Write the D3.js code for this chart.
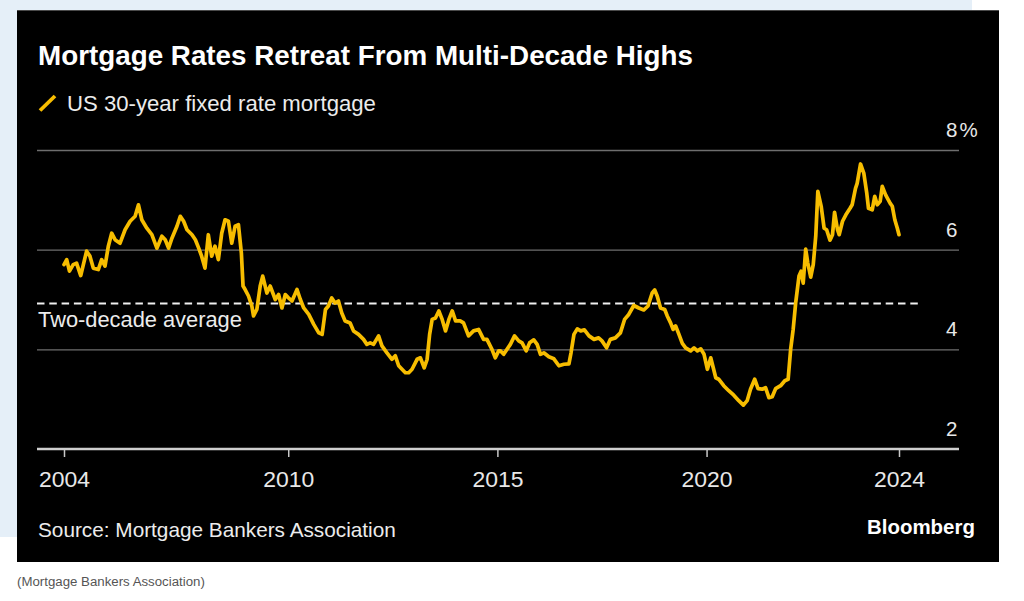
<!DOCTYPE html>
<html><head><meta charset="utf-8">
<script src="https://cdn.jsdelivr.net/npm/d3@7"></script>
<style>html,body{margin:0;padding:0;background:#fff;overflow:hidden} svg{display:block}</style>
</head><body>
<svg id="c" width="1024" height="601"></svg>
<script>
// ---- data ----
const dates = [2004.64,2004.705,2004.77,2004.86,2004.94,2005.04,2005.18,2005.26,2005.34,2005.46,2005.54,2005.62,2005.70,2005.78,2005.86,2005.98,
2006.10,2006.22,2006.34,2006.42,2006.50,2006.62,2006.74,2006.86,2006.98,2007.06,2007.14,2007.22,2007.34,2007.42,2007.50,2007.58,2007.70,2007.78,2007.86,2007.93,
2008.01,2008.09,2008.17,2008.25,2008.33,2008.41,2008.49,2008.57,2008.65,2008.73,2008.81,2008.88,2008.92,2008.97,2009.05,2009.13,2009.17,2009.25,2009.33,2009.39,2009.49,
2009.57,2009.69,2009.77,2009.85,2009.93,2010.01,2010.09,2010.21,2010.29,2010.37,2010.49,2010.61,2010.73,2010.81,2010.89,2010.96,2011.04,2011.12,2011.20,2011.28,2011.36,2011.48,2011.56,2011.68,2011.80,2011.88,2011.96,
2012.04,2012.16,2012.24,2012.36,2012.48,2012.56,2012.64,2012.72,2012.80,2012.88,2012.96,2013.08,2013.16,2013.25,2013.32,2013.38,2013.44,2013.52,2013.60,2013.68,2013.76,2013.84,2013.92,
2014.00,2014.11,2014.19,2014.31,2014.43,2014.55,2014.67,2014.75,2014.87,2014.95,2015.03,2015.07,2015.15,2015.23,2015.31,2015.41,2015.51,2015.59,2015.69,2015.77,2015.87,2015.95,
2016.03,2016.11,2016.23,2016.35,2016.47,2016.59,2016.71,2016.76,2016.83,2016.91,2016.99,2017.08,2017.19,2017.31,2017.42,2017.50,2017.61,2017.70,2017.82,2017.94,
2018.04,2018.14,2018.26,2018.38,2018.50,2018.60,2018.70,2018.76,2018.82,2018.90,2019.00,2019.06,2019.14,2019.20,2019.26,2019.34,2019.42,2019.50,2019.62,2019.70,2019.78,2019.86,2019.94,
2020.02,2020.10,2020.16,2020.22,2020.29,2020.41,2020.53,2020.65,2020.77,2020.88,2020.97,2021.05,2021.15,2021.23,2021.33,2021.41,2021.49,2021.57,2021.65,2021.77,2021.87,2021.95,
2022.01,2022.07,2022.13,2022.21,2022.26,2022.31,2022.37,2022.42,2022.49,2022.55,2022.61,2022.66,2022.74,2022.81,2022.87,2022.95,2023.01,2023.06,2023.13,2023.17,2023.25,2023.33,2023.43,2023.48,
2023.56,2023.60,2023.68,2023.76,2023.83,2023.87,2023.96,2024.02,2024.08,2024.15,2024.20,2024.28,2024.39,2024.44,2024.50,2024.56,2024.60];
const rates = [5.70,5.80,5.57,5.70,5.73,5.48,5.97,5.87,5.63,5.60,5.80,5.67,6.07,6.33,6.20,6.13,
6.40,6.57,6.67,6.90,6.60,6.43,6.30,6.03,6.27,6.20,6.03,6.23,6.47,6.67,6.57,6.40,6.30,6.20,6.03,5.87,
5.63,6.30,5.87,6.07,5.80,6.33,6.60,6.57,6.13,6.47,6.50,5.93,5.27,5.20,5.07,4.87,4.67,4.80,5.27,5.47,5.13,
5.27,5.00,5.10,4.83,5.10,5.03,4.97,5.20,5.00,4.83,4.70,4.50,4.33,4.30,4.80,4.87,5.03,4.93,4.97,4.73,4.57,4.53,4.37,4.30,4.20,4.10,4.13,
4.10,4.27,4.07,3.93,3.80,3.87,3.67,3.60,3.53,3.53,3.60,3.80,3.83,3.63,3.80,4.30,4.60,4.63,4.77,4.60,4.37,4.60,4.77,
4.57,4.57,4.53,4.27,4.37,4.40,4.20,4.20,4.00,3.83,3.97,3.97,3.90,4.00,4.10,4.27,4.17,4.13,3.97,4.13,4.19,4.10,
3.90,3.93,3.85,3.81,3.67,3.70,3.71,3.93,4.30,4.41,4.37,4.39,4.27,4.20,4.23,4.17,4.03,4.20,4.23,4.33,
4.60,4.70,4.88,4.83,4.79,4.87,5.13,5.19,5.07,4.83,4.80,4.67,4.53,4.40,4.47,4.30,4.12,4.03,3.97,4.03,3.97,4.01,3.90,
3.60,3.83,3.63,3.43,3.40,3.27,3.17,3.08,2.97,2.88,2.97,3.20,3.40,3.21,3.20,3.23,3.03,3.05,3.21,3.27,3.37,3.40,
4.00,4.40,4.93,5.47,5.57,5.33,6.01,5.73,5.45,5.70,6.27,7.17,6.87,6.43,6.40,6.19,6.30,6.75,6.40,6.30,6.57,6.70,6.83,6.90,
7.23,7.33,7.72,7.53,7.13,6.83,6.80,7.07,6.90,6.97,7.27,7.10,6.93,6.87,6.60,6.43,6.30];
const averageRate = 4.92;
const yTicks = [2, 4, 6, 8];
const yTickLabels = ["2", "4", "6", "8%"];
const xTicks = [2004.64, 2010, 2015, 2020, 2024.60];
const xTickLabels = ["2004", "2010", "2015", "2020", "2024"];
const seriesName = "US 30-year fixed rate mortgage";
const titleText = "Mortgage Rates Retreat From Multi-Decade Highs";
const avgLabel = "Two-decade average";
const sourceText = "Source: Mortgage Bankers Association";
const captionText = "(Mortgage Bankers Association)";

// ---- drawing ----
const svg = d3.select("#c");
const FONT = "'Liberation Sans', Arial, sans-serif";
const YELLOW = "#f7bd00";

function fit(sel, w) {
  const cur = parseFloat(sel.attr("font-size"));
  const m = sel.node().getComputedTextLength();
  if (m > 0) sel.attr("font-size", (cur * w / m).toFixed(2));
  return sel;
}

// page background pieces
svg.append("rect").attr("x", 0).attr("y", 0).attr("width", 1024).attr("height", 601).attr("fill", "#ffffff");
svg.append("rect").attr("x", 0).attr("y", 0).attr("width", 972).attr("height", 11).attr("fill", "#e5eff8");
svg.append("rect").attr("x", 0).attr("y", 0).attr("width", 18).attr("height", 537).attr("fill", "#e5eff8");
// black panel
svg.append("rect").attr("x", 17).attr("y", 10).attr("width", 982).attr("height", 552).attr("fill", "#000");
svg.append("line").attr("x1", 17).attr("x2", 999).attr("y1", 10.5).attr("y2", 10.5).attr("stroke", "#4a4a4a").attr("stroke-width", 1);

const x = d3.scaleLinear().domain([xTicks[0], xTicks[xTicks.length - 1]]).range([64, 899]);
const y = d3.scaleLinear().domain([2, 8]).range([449, 150]);

// gridlines
const grid = svg.append("g").attr("transform", "translate(37,0)")
  .call(d3.axisRight(y).tickValues(yTicks.slice(1)).tickSize(922).tickFormat(""));
grid.select(".domain").remove();
grid.selectAll(".tick line").attr("stroke", "#6e6e6e").attr("stroke-width", 1.4);

// y labels
svg.append("g").selectAll("text").data(yTicks).join("text")
  .attr("x", 946).attr("y", d => y(d) - 13)
  .attr("font-family", FONT).attr("font-size", 20.5).attr("fill", "#e8e8e8")
  .attr("letter-spacing", (d, i) => yTickLabels[i].length > 1 ? 2 : 0)
  .text((d, i) => yTickLabels[i]);

// x axis
const xa = svg.append("g").attr("transform", "translate(0,449)")
  .call(d3.axisBottom(x).tickValues(xTicks).tickSize(8).tickFormat((d, i) => xTickLabels[i]));
xa.select(".domain").remove();
xa.selectAll(".tick line").attr("stroke", "#c8c8c8").attr("stroke-width", 1.5);
xa.selectAll(".tick text").attr("y", 38).attr("dy", 0)
  .attr("font-family", FONT).attr("font-size", 21.5).attr("fill", "#e8e8e8")
  .attr("textLength", 51).attr("lengthAdjust", "spacingAndGlyphs");
svg.append("line").attr("x1", 37).attr("x2", 959).attr("y1", y(2)).attr("y2", y(2))
  .attr("stroke", "#cfcfcf").attr("stroke-width", 2.4);

// average line
svg.append("line").attr("x1", 37).attr("x2", 921).attr("y1", y(averageRate)).attr("y2", y(averageRate))
  .attr("stroke", "#f0f0f0").attr("stroke-width", 2.2).attr("stroke-dasharray", "7.5,4.8");
fit(svg.append("text").attr("x", 38).attr("y", 327).attr("font-family", FONT).attr("font-size", 21)
  .attr("fill", "#ececec").text(avgLabel), 204);

// series line
const line = d3.line().x((d, i) => x(dates[i])).y(d => y(d));
svg.append("path").attr("d", line(rates)).attr("fill", "none")
  .attr("stroke", YELLOW).attr("stroke-width", 3.7)
  .attr("stroke-linejoin", "round").attr("stroke-linecap", "round");

// title and legend
fit(svg.append("text").attr("x", 38).attr("y", 65).attr("font-family", FONT).attr("font-weight", "bold")
  .attr("font-size", 24).attr("fill", "#ffffff").text(titleText), 655);
svg.append("line").attr("x1", 40).attr("y1", 110.5).attr("x2", 55).attr("y2", 96)
  .attr("stroke", YELLOW).attr("stroke-width", 3.8).attr("stroke-linecap", "butt");
fit(svg.append("text").attr("x", 67).attr("y", 111).attr("font-family", FONT).attr("font-size", 20)
  .attr("fill", "#ececec").text(seriesName), 309);

// footer
fit(svg.append("text").attr("x", 38).attr("y", 537).attr("font-family", FONT).attr("font-size", 20)
  .attr("fill", "#ececec").text(sourceText), 358);
fit(svg.append("text").attr("x", 867).attr("y", 534).attr("font-family", FONT).attr("font-weight", "bold")
  .attr("font-size", 20).attr("fill", "#ffffff").text("Bloomberg"), 108);
fit(svg.append("text").attr("x", 17).attr("y", 586).attr("font-family", FONT).attr("font-size", 13)
  .attr("fill", "#555").text(captionText), 188);
</script>
</body></html>
